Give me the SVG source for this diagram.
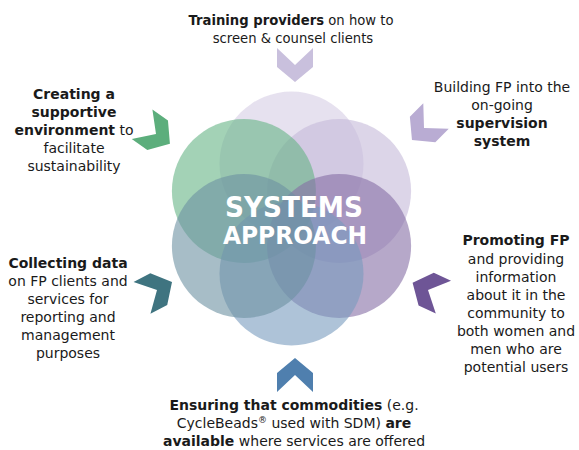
<svg xmlns="http://www.w3.org/2000/svg" width="579" height="450" viewBox="0 0 579 450">
  <defs>
    <style>
      .t { font-family: "DejaVu Sans", "Liberation Sans", sans-serif; font-size: 14px; fill: #1a1a1a; text-anchor: middle; }
      .s { font-size: 13.2px; }
      .b { font-weight: bold; }
      .title { font-family: "DejaVu Sans", "Liberation Sans", sans-serif; font-weight: bold; fill: #ffffff; text-anchor: middle; }
      .c { fill-opacity: 0.6; }
    </style>
    <path id="chev" d="M-17,-18 L2,-18 L17,0 L2,18 L-17,18 L0,0 Z"/>
  </defs>
  <rect width="579" height="450" fill="#ffffff"/>

  <g id="systems-approach">
    <circle class="c" cx="291.5" cy="163.5" r="72" fill="#d5cde4"/>
    <circle class="c" cx="339.1" cy="191" r="72" fill="#c5b9d9"/>
    <circle class="c" cx="243.9" cy="191" r="72" fill="#66b485"/>
    <circle class="c" cx="339.1" cy="246" r="72" fill="#856ea5"/>
    <circle class="c" cx="291.5" cy="273.5" r="72" fill="#789bbe"/>
    <circle class="c" cx="243.9" cy="246" r="72" fill="#6c91a2"/>
    <text class="title" x="294" y="217" font-size="29" textLength="138" lengthAdjust="spacingAndGlyphs">SYSTEMS</text>
    <text class="title" x="295" y="244" font-size="24" textLength="144" lengthAdjust="spacingAndGlyphs">APPROACH</text>
  </g>

  <g id="connectors">
    <use href="#chev" transform="translate(295,65) rotate(90)" fill="#c9c0dd"/>
    <use href="#chev" transform="translate(424,128) rotate(135)" fill="#b9acd3"/>
    <use href="#chev" transform="translate(428,290) rotate(205)" fill="#6e5596"/>
    <use href="#chev" transform="translate(295,375) rotate(270)" fill="#4f7fae"/>
    <use href="#chev" transform="translate(157,290) rotate(-28)" fill="#3f7480"/>
    <use href="#chev" transform="translate(156,134) rotate(35)" fill="#5cae7c"/>
  </g>

  <g id="training">
    <text class="t s" x="291" y="25"><tspan class="b">Training providers</tspan> on how to</text>
    <text class="t s" x="293" y="43">screen &amp; counsel clients</text>
  </g>

  <g id="supervision">
    <text class="t" x="502" y="92">Building FP into the</text>
    <text class="t" x="502" y="110">on-going</text>
    <text class="t b" x="502" y="128">supervision</text>
    <text class="t b" x="502" y="146">system</text>
  </g>

  <g id="environment">
    <text class="t b" x="74" y="99">Creating a</text>
    <text class="t b" x="74" y="117">supportive</text>
    <text class="t" x="74" y="135"><tspan class="b">environment</tspan> to</text>
    <text class="t" x="74" y="153">facilitate</text>
    <text class="t" x="74" y="171">sustainability</text>
  </g>

  <g id="data">
    <text class="t b" x="68" y="268">Collecting data</text>
    <text class="t" x="68" y="286">on FP clients and</text>
    <text class="t" x="68" y="304">services for</text>
    <text class="t" x="68" y="322">reporting and</text>
    <text class="t" x="68" y="340">management</text>
    <text class="t" x="68" y="358">purposes</text>
  </g>

  <g id="promoting">
    <text class="t b" x="516" y="245">Promoting FP</text>
    <text class="t" x="516" y="264">and providing</text>
    <text class="t" x="516" y="282">information</text>
    <text class="t" x="516" y="300">about it in the</text>
    <text class="t" x="516" y="318">community to</text>
    <text class="t" x="516" y="336">both women and</text>
    <text class="t" x="516" y="354">men who are</text>
    <text class="t" x="516" y="372">potential users</text>
  </g>

  <g id="commodities">
    <text class="t" x="294" y="410"><tspan class="b">Ensuring that commodities</tspan> (e.g.</text>
    <text class="t" x="294" y="428">CycleBeads<tspan font-size="9" baseline-shift="super">®</tspan> used with SDM) <tspan class="b">are</tspan></text>
    <text class="t" x="294" y="446"><tspan class="b">available</tspan> where services are offered</text>
  </g>
</svg>
